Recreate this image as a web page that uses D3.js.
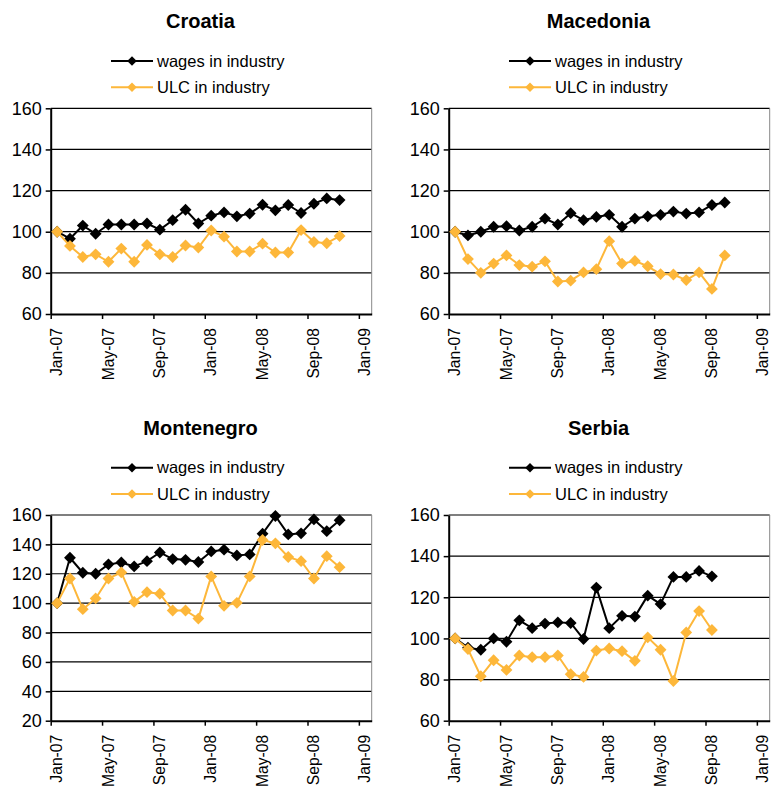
<!DOCTYPE html>
<html>
<head>
<meta charset="utf-8">
<script src="https://cdn.jsdelivr.net/npm/d3@7"></script>
<style>
  html, body { margin: 0; padding: 0; background: #fff; }
  svg { display: block; font-family: "Liberation Sans", Arial, sans-serif; }
</style>
</head>
<body>
<svg id="chart" width="771" height="787"></svg>
<script>
// Monthly index values, Jan-07 = 100
const countries = ["Croatia", "Macedonia", "Montenegro", "Serbia"];
const seriesNames = ["wages in industry", "ULC in industry"];
const xTickLabels = ["Jan-07", "May-07", "Sep-07", "Jan-08", "May-08", "Sep-08", "Jan-09"];

const croatiaWages = [100, 96.6, 103, 99, 103.5, 103.5, 103.5, 104, 101, 105.6, 110.7, 104, 107.8, 109.4, 107.5, 108.8, 113.1, 110.4, 113, 109.1, 113.6, 116.2, 115.4];
const croatiaULC   = [100, 93.1, 87.7, 89, 85.4, 91.8, 85.4, 93.6, 89, 87.7, 93.3, 92.3, 100.6, 97.6, 90.4, 90.4, 94.2, 89.9, 89.9, 100.8, 95, 94.4, 97.9];

const macedoniaWages = [100, 98.2, 100, 102.4, 102.7, 100.6, 102.4, 106.4, 103.5, 109, 105.6, 107.2, 108.2, 102.4, 106.4, 107.5, 108.2, 109.8, 108.8, 109.4, 113, 114.2];
const macedoniaULC   = [100, 86.7, 80, 84.5, 88.5, 83.8, 83, 85.6, 75.8, 76.2, 80.2, 81.8, 95.4, 84.5, 85.8, 83.2, 79.4, 79.2, 76.5, 80.2, 72.2, 88.5];

const montenegroWages = [100, 130.9, 120.7, 120, 126.4, 127.7, 125, 128.6, 134.5, 130, 129.5, 128, 135.2, 136.4, 132.5, 133.2, 147.3, 159.3, 146.8, 147.5, 157, 149, 156.4];
const montenegroULC   = [100, 116.8, 95.9, 103.2, 116.8, 120.9, 100.9, 107.5, 106.4, 95, 95, 89.5, 118.2, 98.2, 100.2, 118.2, 143, 140.7, 131.4, 128.6, 116.8, 132, 124.5];

const serbiaWages = [100, 95.5, 94.5, 100, 98.4, 108.8, 105, 107.2, 107.8, 107.5, 99.7, 124.7, 105, 111, 110.6, 120.8, 116.7, 129.9, 129.9, 132.8, 130.2];
const serbiaULC   = [100, 94.8, 81.6, 89.4, 84.7, 91.7, 90.9, 90.9, 91.7, 82.6, 81.3, 94.1, 95.1, 93.8, 89.1, 100.5, 94.5, 79.3, 102.9, 113.3, 104.1];

const yMins = [60, 60, 20, 60];
const yMaxs = [160, 160, 160, 160];

// panel layout
const colors = ["#000000", "#FDB73A"];
const panels = [
  { name: countries[0], ox: 0,   oy: 0,     series: [croatiaWages, croatiaULC],         yMin: yMins[0], yMax: yMaxs[0] },
  { name: countries[1], ox: 398, oy: 0,     series: [macedoniaWages, macedoniaULC],     yMin: yMins[1], yMax: yMaxs[1] },
  { name: countries[2], ox: 0,   oy: 406.7, series: [montenegroWages, montenegroULC],   yMin: yMins[2], yMax: yMaxs[2] },
  { name: countries[3], ox: 398, oy: 406.7, series: [serbiaWages, serbiaULC],           yMin: yMins[3], yMax: yMaxs[3] }
];

const svg = d3.select("#chart");
const plotL = 50.7, plotR = 371.7, plotT = 108.3, plotB = 314;
const diamond = d3.symbol().type(d3.symbolSquare).size(70);
const legendDiamond = d3.symbol().type(d3.symbolSquare).size(46);

panels.forEach(p => {
  const g = svg.append("g").attr("transform", `translate(${p.ox},${p.oy})`);

  // months on a category-style axis: each month is one slot, point in the middle
  const x = d3.scaleLinear().domain([0, 25]).range([plotL, plotR]);
  const y = d3.scaleLinear().domain([p.yMin, p.yMax]).range([plotB, plotT]);
  const yTicks = d3.range(p.yMin, p.yMax + 1, 20);

  // title
  g.append("text")
    .attr("x", 200.5).attr("y", 28)
    .attr("text-anchor", "middle")
    .attr("font-size", 20).attr("font-weight", "bold")
    .text(p.name);

  // legend
  seriesNames.forEach((nm, k) => {
    const ly = 61 + k * 26.3;
    g.append("line")
      .attr("x1", 111).attr("x2", 153).attr("y1", ly).attr("y2", ly)
      .attr("stroke", colors[k]).attr("stroke-width", 2);
    g.append("path")
      .attr("d", legendDiamond)
      .attr("transform", `translate(132,${ly}) rotate(45)`)
      .attr("fill", colors[k]);
    g.append("text")
      .attr("x", 157).attr("y", ly + 5.8)
      .attr("font-size", 16.5)
      .text(nm);
  });

  // gridlines
  g.append("g").selectAll("line")
    .data(yTicks.filter(v => v > p.yMin))
    .join("line")
    .attr("x1", plotL).attr("x2", plotR)
    .attr("y1", d => y(d)).attr("y2", d => y(d))
    .attr("stroke", "#000").attr("stroke-width", 1.2);

  // right border of the plot area
  g.append("line")
    .attr("x1", plotR).attr("x2", plotR).attr("y1", plotT).attr("y2", plotB)
    .attr("stroke", "#888").attr("stroke-width", 1);

  // y axis
  const yAxis = g.append("g")
    .attr("transform", `translate(${plotL},0)`)
    .call(d3.axisLeft(y).tickValues(yTicks).tickSize(5).tickPadding(4).tickSizeOuter(0));
  yAxis.select(".domain").attr("stroke", "#000").attr("stroke-width", 2);
  yAxis.selectAll(".tick line").attr("stroke", "#000").attr("stroke-width", 1.5);
  yAxis.selectAll(".tick text")
    .attr("font-size", 18).attr("fill", "#000")
    .attr("font-family", "Liberation Sans, Arial, sans-serif");

  // x axis
  const xAxis = g.append("g")
    .attr("transform", `translate(0,${plotB})`)
    .call(d3.axisBottom(x)
      .tickValues(d3.range(0, 25, 4))
      .tickFormat(d => xTickLabels[d / 4])
      .tickSize(5).tickSizeOuter(0));
  xAxis.select(".domain").attr("stroke", "#000").attr("stroke-width", 2);
  xAxis.selectAll(".tick line").attr("stroke", "#000").attr("stroke-width", 1.5);
  xAxis.selectAll(".tick text")
    .attr("font-size", 15.7).attr("fill", "#000")
    .attr("font-family", "Liberation Sans, Arial, sans-serif")
    .attr("transform", "rotate(-90)")
    .attr("text-anchor", "end")
    .attr("x", -14).attr("y", 11).attr("dy", 0);

  // series
  p.series.forEach((vals, k) => {
    const line = d3.line().x((d, i) => x(i + 0.5)).y(d => y(d));
    g.append("path")
      .datum(vals)
      .attr("d", line)
      .attr("fill", "none")
      .attr("stroke", colors[k])
      .attr("stroke-width", 2)
      .attr("stroke-linejoin", "round");
    g.append("g").selectAll("path")
      .data(vals)
      .join("path")
      .attr("d", diamond)
      .attr("transform", (d, i) => `translate(${x(i + 0.5)},${y(d)}) rotate(45)`)
      .attr("fill", colors[k]);
  });
});
</script>
</body>
</html>
